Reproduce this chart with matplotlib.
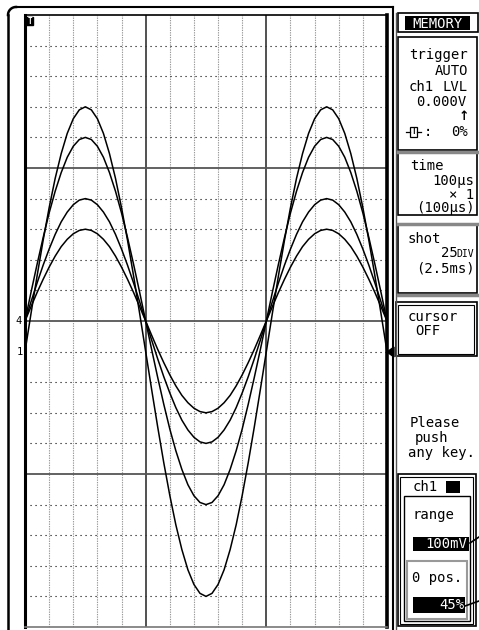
import numpy as np
import matplotlib
matplotlib.use("Agg")
import matplotlib.pyplot as plt
from matplotlib.patches import Rectangle, Polygon

# time base: 100 us/div, 15 divisions shown, sample every 25 us
time_us = np.arange(0, 1501, 25)

# trace values in divisions (zero = centre line)
ch1 = [-1.00, 0.25, 1.47, 2.63, 3.70, 4.66, 5.47, 6.13, 6.61, 6.90, 7.00,
       6.90, 6.61, 6.13, 5.47, 4.66, 3.70, 2.63, 1.47, 0.25, -1.00,
       -2.25, -3.47, -4.63, -5.70, -6.66, -7.47, -8.13, -8.61, -8.90, -9.00,
       -8.90, -8.61, -8.13, -7.47, -6.66, -5.70, -4.63, -3.47, -2.25, -1.00,
       0.25, 1.47, 2.63, 3.70, 4.66, 5.47, 6.13, 6.61, 6.90, 7.00,
       6.90, 6.61, 6.13, 5.47, 4.66, 3.70, 2.63, 1.47, 0.25, -1.00]
ch2 = [0.00, 0.94, 1.85, 2.72, 3.53, 4.24, 4.85, 5.35, 5.71, 5.93, 6.00,
       5.93, 5.71, 5.35, 4.85, 4.24, 3.53, 2.72, 1.85, 0.94, 0.00,
       -0.94, -1.85, -2.72, -3.53, -4.24, -4.85, -5.35, -5.71, -5.93, -6.00,
       -5.93, -5.71, -5.35, -4.85, -4.24, -3.53, -2.72, -1.85, -0.94, 0.00,
       0.94, 1.85, 2.72, 3.53, 4.24, 4.85, 5.35, 5.71, 5.93, 6.00,
       5.93, 5.71, 5.35, 4.85, 4.24, 3.53, 2.72, 1.85, 0.94, 0.00]
ch3 = [0.00, 0.63, 1.24, 1.82, 2.35, 2.83, 3.24, 3.56, 3.80, 3.95, 4.00,
       3.95, 3.80, 3.56, 3.24, 2.83, 2.35, 1.82, 1.24, 0.63, 0.00,
       -0.63, -1.24, -1.82, -2.35, -2.83, -3.24, -3.56, -3.80, -3.95, -4.00,
       -3.95, -3.80, -3.56, -3.24, -2.83, -2.35, -1.82, -1.24, -0.63, 0.00,
       0.63, 1.24, 1.82, 2.35, 2.83, 3.24, 3.56, 3.80, 3.95, 4.00,
       3.95, 3.80, 3.56, 3.24, 2.83, 2.35, 1.82, 1.24, 0.63, 0.00]
ch4 = [0.00, 0.47, 0.93, 1.36, 1.76, 2.12, 2.43, 2.67, 2.85, 2.96, 3.00,
       2.96, 2.85, 2.67, 2.43, 2.12, 1.76, 1.36, 0.93, 0.47, 0.00,
       -0.47, -0.93, -1.36, -1.76, -2.12, -2.43, -2.67, -2.85, -2.96, -3.00,
       -2.96, -2.85, -2.67, -2.43, -2.12, -1.76, -1.36, -0.93, -0.47, 0.00,
       0.47, 0.93, 1.36, 1.76, 2.12, 2.43, 2.67, 2.85, 2.96, 3.00,
       2.96, 2.85, 2.67, 2.43, 2.12, 1.76, 1.36, 0.93, 0.47, 0.00]
traces = [ch1, ch2, ch3, ch4]

MONO = "DejaVu Sans Mono"
W, H = 479, 630
fig = plt.figure(figsize=(W / 100, H / 100), dpi=100)
fig.patch.set_facecolor("white")

# waveform screen: x 25..387 px, y 15..627 px
ax = fig.add_axes([25 / W, 3 / H, 362 / W, 612 / H])
ax.set_xlim(0, 1500)
ax.set_ylim(-10, 10)
ax.set_xticks([])
ax.set_yticks([])

for x in range(100, 1500, 100):
    if x % 500:
        ax.axvline(x, color="#999999", lw=0.8, ls=(0, (1.2, 1.0)), zorder=1)
for y in range(-9, 10):
    if y % 5:
        ax.axhline(y, color="black", lw=0.8, ls=(0, (1, 3.5)), zorder=1)
for x in (500, 1000):
    ax.axvline(x, color="#333333", lw=1.2, zorder=2)
for y in (-5, 0, 5):
    ax.axhline(y, color="#555555", lw=1.3, zorder=2)

for tr in traces:
    ax.plot(time_us, tr, color="black", lw=1.1, zorder=3)

ax.spines["left"].set_linewidth(2.2)
ax.spines["right"].set_linewidth(2.6)
ax.spines["top"].set_linewidth(1.2)
ax.spines["bottom"].set_linewidth(1.2)
ax.spines["bottom"].set_color("#777777")

# overlay in pixel coordinates for frame and side panel
ov = fig.add_axes([0, 0, 1, 1], zorder=5)
ov.set_xlim(0, W)
ov.set_ylim(H, 0)
ov.axis("off")
ov.patch.set_alpha(0)

# outer rounded frame
th = np.linspace(np.pi, 1.5 * np.pi, 20)
ov.plot(16 + 8 * np.cos(th), 15 + 8 * np.sin(th), color="black", lw=1.8)
ov.plot([8, 8], [15, 630], color="black", lw=1.8)
ov.plot([16, 393], [7, 7], color="black", lw=1.5)
ov.plot([393, 393], [7, 630], color="black", lw=1.5)
ov.plot([396, 396], [13, 630], color="#555555", lw=1.0)

# screen markers
ov.add_patch(Rectangle((26, 17), 7, 8, color="black"))
ov.text(29.5, 21.3, "T", color="white", fontsize=5.5, fontweight="bold",
        ha="center", va="center", family=MONO)
ov.text(19, 321, "4", fontsize=7.5, ha="center", va="center", family=MONO)
ov.text(20, 352, "1", fontsize=7.5, ha="center", va="center", family=MONO)
ov.add_patch(Polygon([[387, 352], [394, 347], [394, 357]], color="black"))


def box(x0, y0, x1, y1, lw=1.2, color="black", fill=None):
    ov.add_patch(Rectangle((x0, y0), x1 - x0, y1 - y0,
                           facecolor=fill if fill else "none",
                           edgecolor=color, lw=lw))


def txt(x, y, s, ha="left", color="black", size=10):
    ov.text(x, y, s, ha=ha, va="center", color=color, fontsize=size, family=MONO)


# MEMORY
box(398, 13, 478, 32)
box(405, 16, 470, 30, lw=0, fill="black")
txt(437.5, 23.5, "MEMORY", ha="center", color="white")

# trigger
box(398, 37, 477, 150)
ov.plot([398, 477], [151.5, 151.5], color="#888888", lw=2.5)
txt(409, 55, "trigger")
txt(468, 71, "AUTO", ha="right")
txt(409, 87, "ch1")
txt(468, 87, "LVL", ha="right")
txt(466, 102, "0.000V", ha="right")
ov.text(464, 117, "↑", ha="center", va="center", fontsize=9, fontweight="bold",
        family="DejaVu Sans")
box(410, 127, 417, 137, lw=0.9)
ov.text(413.5, 132, "T", ha="center", va="center", fontsize=5.5, family=MONO,
        fontweight="bold")
ov.plot([406, 410], [132, 132], color="black", lw=0.9)
ov.plot([417, 421], [132, 132], color="black", lw=0.9)
txt(428, 132, ":", ha="center")
txt(468, 132, "0%", ha="right")

# time
box(398, 153, 477, 215)
ov.plot([398, 477], [223.5, 223.5], color="#888888", lw=2.5)
txt(410, 166, "time")
txt(474, 181, "100μs", ha="right")
txt(474, 195, "× 1", ha="right")
txt(475, 208, "(100μs)", ha="right")

# shot
box(398, 224, 477, 293)
ov.plot([398, 477], [294.5, 294.5], color="#888888", lw=2.5)
txt(408, 239, "shot")
txt(458, 253, "25", ha="right")
txt(474, 254, "DIV", ha="right", size=7)
txt(475, 269, "(2.5ms)", ha="right")

# cursor
box(396, 302, 477, 356)
box(398.5, 304.5, 474.5, 353.5, lw=0.8)
txt(408, 317, "cursor")
txt(415, 331, "OFF")

# message
txt(410, 423, "Please")
txt(415, 438, "push")
txt(408, 453, "any key.")

# ch1 block
box(398, 474, 476, 626)
box(400.5, 476.5, 473.5, 623.5, lw=0.8)
txt(413, 487, "ch1")
box(446, 481, 460, 493, lw=0, fill="black")
box(404, 496, 470, 621, lw=1.0)
txt(413, 515, "range")
box(413, 537, 469, 551, lw=0, fill="black")
txt(467, 544, "100mV", ha="right", color="white")
box(407, 561, 467, 619, lw=1.5, color="#999999")
txt(412, 578, "0 pos.")
box(413, 597, 465, 613, lw=0, fill="black")
txt(464, 605, "45%", ha="right", color="white")
ov.plot([470, 479], [543, 537], color="black", lw=1.2)
ov.plot([465, 479], [606, 601], color="black", lw=1.2)

fig.savefig("out.png", dpi=100)
